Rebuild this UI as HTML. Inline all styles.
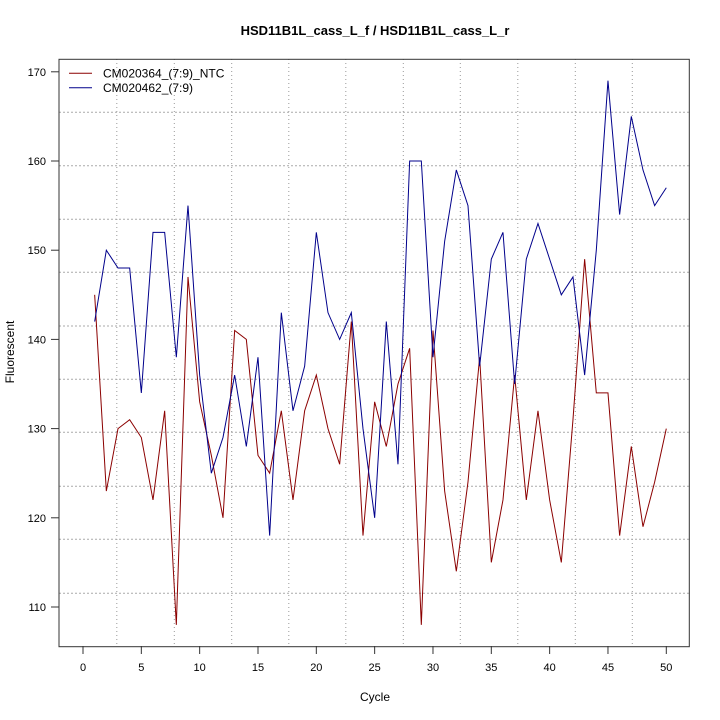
<!DOCTYPE html>
<html><head><style>body{margin:0;background:#fff}svg{display:block}text{font-family:"Liberation Sans",sans-serif}</style></head>
<body>
<svg id="s" width="720" height="720" xmlns="http://www.w3.org/2000/svg">
<rect width="720" height="720" fill="#fff"/>
<text x="375" y="35" font-size="13" font-weight="bold" text-anchor="middle">HSD11B1L_cass_L_f / HSD11B1L_cass_L_r</text>
<text x="375" y="701" font-size="12" text-anchor="middle">Cycle</text>
<text transform="translate(14,352) rotate(-90)" font-size="12" text-anchor="middle">Fluorescent</text>
<g id="g"></g>
<rect x="59" y="59.3" width="630.3" height="587.4" fill="none" stroke="#333" stroke-width="1"/>
<line x1="69" y1="73.3" x2="92" y2="73.3" stroke="#8b0000"/>
<line x1="69" y1="87.7" x2="92" y2="87.7" stroke="#00008b"/>
<text x="103" y="77.5" font-size="12">CM020364_(7:9)_NTC</text>
<text x="103" y="92" font-size="12">CM020462_(7:9)</text>
</svg>
<script>
var X=function(c){return 83+c*11.666},Y=function(v){return 607-(v-110)*8.92};
var h='';
[116.8,174.3,231.7,288.8,345.8,403.3,460.3,517.8,575.3,632.3].forEach(function(x){h+='<line x1="'+x+'" y1="59" x2="'+x+'" y2="646" stroke="#999" stroke-dasharray="1,3"/>'});
[112.3,165.7,219.3,272.3,326,379.3,432.3,486.3,539.3,593.3].forEach(function(y){h+='<line x1="59" y1="'+y+'" x2="689" y2="'+y+'" stroke="#aaa" stroke-dasharray="2,2"/>'});
for(var c=0;c<=50;c+=5){var x=X(c);h+='<line x1="'+x+'" y1="646" x2="'+x+'" y2="654" stroke="#333"/><text x="'+x+'" y="671" font-size="11" text-anchor="middle">'+c+'</text>';}
for(var v=110;v<=170;v+=10){var y=Y(v);h+='<line x1="51" y1="'+y+'" x2="59" y2="'+y+'" stroke="#333"/><text x="46" y="'+(y+4)+'" font-size="11" text-anchor="end">'+v+'</text>';}
var r=[145,123,130,131,129,122,132,108,147,133,127,120,141,140,127,125,132,122,132,136,130,126,142,118,133,128,135,139,108,141,123,114,124,138,115,122,136,122,132,122,115,131,149,134,134,118,128,119,124,130];
var b=[142,150,148,148,134,152,152,138,155,136,125,129,136,128,138,118,143,132,137,152,143,140,143,130,120,142,126,160,160,138,151,159,155,137,149,152,135,149,153,149,145,147,136,150,169,154,165,159,155,157];
function pl(d,col){return '<polyline fill="none" stroke="'+col+'" stroke-width="1" points="'+d.map(function(v,i){return X(i+1)+','+Y(v)}).join(' ')+'"/>';}
h+=pl(r,'#8b0000')+pl(b,'#00008b');
document.getElementById('g').innerHTML=h;
</script>
</body></html>
